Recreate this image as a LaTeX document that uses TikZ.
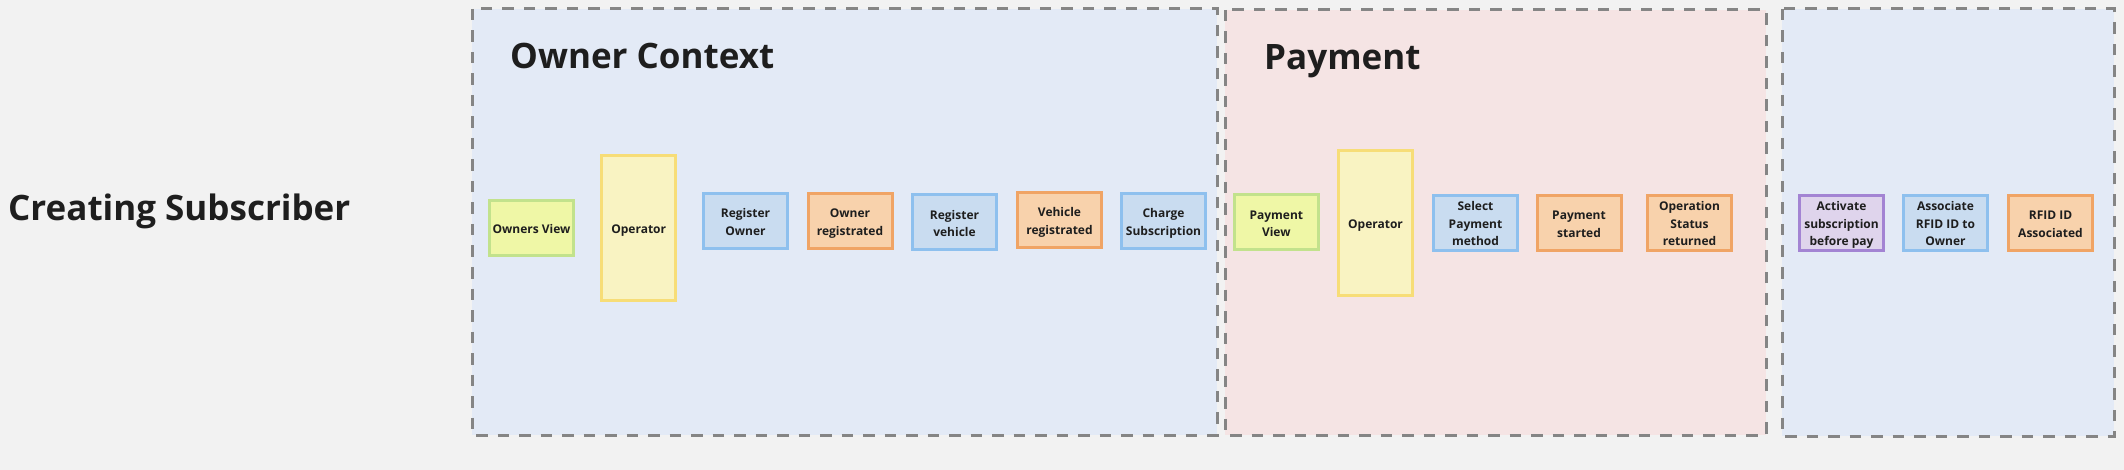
\documentclass[tikz,border=0pt]{standalone}
\usepackage{fontspec}
\setmainfont{Open Sans}
\definecolor{bg}{HTML}{F2F2F2}
\definecolor{bluefr}{HTML}{E3EAF6}
\definecolor{pinkfr}{HTML}{F5E4E4}
\definecolor{framegray}{HTML}{858585}
\definecolor{txt}{HTML}{1E1E1E}
\definecolor{greenfill}{HTML}{EFF7A6}
\definecolor{greenline}{HTML}{C2E28C}
\definecolor{yelfill}{HTML}{F9F3C2}
\definecolor{yelline}{HTML}{F7DD77}
\definecolor{bluefill}{HTML}{C9DCF0}
\definecolor{blueline}{HTML}{8EC0EE}
\definecolor{orfill}{HTML}{F8D2AC}
\definecolor{orline}{HTML}{F0A465}
\definecolor{purfill}{HTML}{DFD4EC}
\definecolor{purline}{HTML}{A384D3}
\newcommand{\boxfont}{\bfseries\fontsize{12}{17.5}\selectfont}
\newcommand{\titlefont}{\bfseries\fontsize{35}{40}\selectfont}
\newcommand{\bx}[1]{\raisebox{-2pt}[\height][\depth]{\begin{tabular}{@{}c@{}}#1\end{tabular}}}
\begin{document}
\begin{tikzpicture}[x=1pt,y=-1pt,
  frame/.style={draw=framegray, dash pattern=on 11.5pt off 10pt, line width=3pt},
  box/.style={line width=3pt, minimum width=84pt, minimum height=55pt, inner sep=1pt, font=\boxfont, text=txt},
  greenbox/.style={box, draw=greenline, fill=greenfill},
  opbox/.style={box, draw=yelline, fill=yelfill, minimum width=73.5pt, minimum height=145pt},
  bluebox/.style={box, draw=blueline, fill=bluefill},
  orbox/.style={box, draw=orline, fill=orfill},
  purbox/.style={box, draw=purline, fill=purfill},
  title/.style={anchor=base west, inner sep=0pt, font=\titlefont, text=txt}]
\fill[bg] (0,0) rectangle (2124,470);
\useasboundingbox (0,0) rectangle (2124,470);
% frames
\draw[frame, fill=bluefr] (472,9) rectangle (1217,435);
\draw[frame, fill=pinkfr] (1225,10) rectangle (1766,435);
\draw[frame, fill=bluefr] (1782,9) rectangle (2114,436);
% titles
\node[title] (main) at (8,221) {Creating Subscriber};
\node[title] (owner) at (510,69) {Owner Context};
\node[title] (pay) at (1264,70) {Payment};
% owner context
\node[greenbox] (ov) at (531.5,228) {\bx{Owners View}};
\node[opbox] (op1) at (638.7,228) {\bx{Operator}};
\node[bluebox] (ro) at (745.5,221) {\bx{Register\\Owner}};
\node[orbox] (or) at (850,221) {\bx{Owner\\registrated}};
\node[bluebox] (rv) at (954.5,222.5) {\bx{Register\\vehicle}};
\node[orbox] (vr) at (1059.5,220) {\bx{Vehicle\\registrated}};
\node[bluebox] (cs) at (1163.5,221) {\bx{Charge\\Subscription}};
% payment
\node[greenbox] (pv) at (1276.3,222.5) {\bx{Payment\\View}};
\node[opbox] (op2) at (1375.5,223) {\bx{Operator}};
\node[bluebox] (spm) at (1475.5,223) {\bx{Select\\Payment\\method}};
\node[orbox] (ps) at (1579,223) {\bx{Payment\\started}};
\node[orbox] (osr) at (1689.5,223) {\bx{Operation\\Status\\returned}};
% third
\node[purbox] (act) at (1841.5,223) {\bx{Activate\\subscription\\before pay}};
\node[bluebox] (assoc) at (1945.5,223) {\bx{Associate\\RFID ID to\\Owner}};
\node[orbox] (rfid) at (2050.5,223) {\bx{RFID ID\\Associated}};
\end{tikzpicture}
\end{document}
